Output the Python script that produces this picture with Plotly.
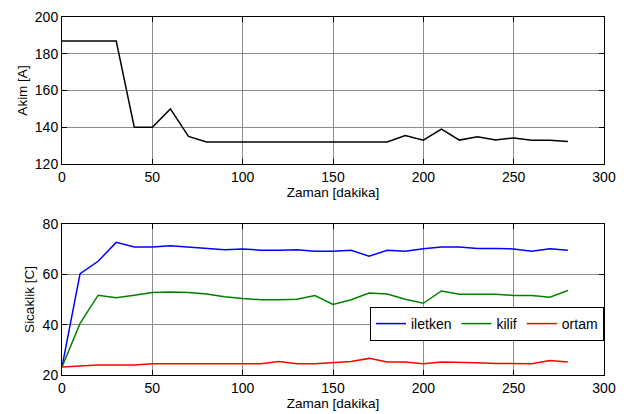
import plotly.graph_objects as go

zaman = list(range(0, 290, 10))
akim = [187, 187, 187, 187, 140, 140, 150, 135, 132, 132, 132, 132, 132, 132, 132,
        132, 132, 132, 132, 135.5, 133, 139, 133, 134.8, 133, 134.2, 132.9, 132.9, 132.2]
iletken = [23.2, 60.3, 65.2, 72.7, 70.9, 70.9, 71.4, 70.9, 70.2, 69.8, 70.1, 69.6, 69.6, 69.8, 69.2,
           69.2, 69.6, 67.2, 69.6, 69.2, 70.2, 70.9, 70.9, 70.3, 70.3, 70.1, 69.2, 70.2, 69.6]
kilif = [23.2, 40.5, 51.7, 50.7, 51.7, 52.8, 53.0, 52.8, 52.2, 51.1, 50.4, 49.9, 49.9, 50.1, 51.6,
         48.0, 49.9, 52.6, 52.2, 50.1, 48.5, 53.4, 52.1, 52.1, 52.1, 51.6, 51.6, 50.9, 53.6]
ortam = [23.2, 23.7, 24.0, 24.0, 24.0, 24.5, 24.5, 24.5, 24.5, 24.5, 24.5, 24.5, 25.4, 24.5, 24.5,
         24.8, 25.4, 26.6, 25.2, 25.2, 24.5, 25.2, 25.2, 24.9, 24.6, 24.5, 24.5, 25.8, 25.2]

x_ticks = [0, 50, 100, 150, 200, 250, 300]
akim_ticks = [120, 140, 160, 180, 200]
sicaklik_ticks = [20, 40, 60, 80]

FONT = "Liberation Sans, Arial, sans-serif"

fig = go.Figure()
fig.add_trace(go.Scatter(x=zaman, y=akim, mode="lines", line=dict(color="black", width=1.5),
                         showlegend=False, xaxis="x", yaxis="y"))
fig.add_trace(go.Scatter(x=zaman, y=iletken, mode="lines", name="iletken",
                         line=dict(color="#0000ff", width=1.5), xaxis="x2", yaxis="y2"))
fig.add_trace(go.Scatter(x=zaman, y=kilif, mode="lines", name="kilif",
                         line=dict(color="#008000", width=1.5), xaxis="x2", yaxis="y2"))
fig.add_trace(go.Scatter(x=zaman, y=ortam, mode="lines", name="ortam",
                         line=dict(color="#ff0000", width=1.5), xaxis="x2", yaxis="y2"))

axis_common = dict(showline=True, linecolor="black", linewidth=1, mirror="ticks",
                   ticks="inside", ticklen=5, tickcolor="black", automargin=False,
                   ticklabeloverflow="allow",
                   showgrid=True, gridcolor="#8c8c8c", gridwidth=1, zeroline=False,
                   tickfont=dict(size=14, color="black", family=FONT))

fig.update_layout(
    width=623, height=406,
    margin=dict(l=54, r=27, t=9, b=39),
    paper_bgcolor="white", plot_bgcolor="white",
    font=dict(family=FONT, color="black"),
    xaxis=dict(axis_common, domain=[0, 1], range=[0, 300], tickvals=x_ticks, anchor="y",
               title=dict(text="Zaman [dakika]", font=dict(size=13.5), standoff=2)),
    yaxis=dict(axis_common, domain=[0.5894, 1], range=[120, 200], tickvals=akim_ticks, anchor="x",
               title=dict(text="Akim [A]", font=dict(size=13.5), standoff=4)),
    xaxis2=dict(axis_common, domain=[0, 1], range=[0, 300], tickvals=x_ticks, anchor="y2",
                title=dict(text="Zaman [dakika]", font=dict(size=13.5), standoff=2)),
    yaxis2=dict(axis_common, domain=[0, 0.4218], range=[20, 80], tickvals=sicaklik_ticks, anchor="x2",
                title=dict(text="Sicaklik [C]", font=dict(size=13.5), standoff=4)),
    legend=dict(orientation="h", x=1, xanchor="right", y=0.1425, yanchor="middle",
                bordercolor="black", borderwidth=1, bgcolor="white",
                font=dict(size=14, color="black"), itemwidth=30, tracegroupgap=0),
)

fig.write_html("out.html")
